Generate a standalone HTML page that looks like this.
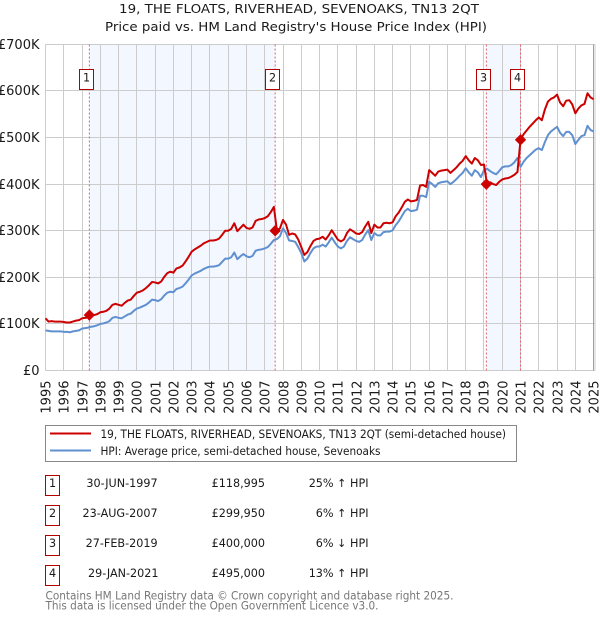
<!DOCTYPE html>
<html lang="en">
<head>
<meta charset="utf-8">
<title>19, THE FLOATS, RIVERHEAD, SEVENOAKS, TN13 2QT</title>
<style>
html,body{margin:0;padding:0;background:#fff;width:600px;height:620px;overflow:hidden}
svg{display:block}
text{font-family:"DejaVu Sans","Liberation Sans",sans-serif;fill:#1a1a1a}
</style>
</head>
<body>
<svg id="chart" xmlns="http://www.w3.org/2000/svg" width="600" height="620" viewBox="0 0 600 620">
  <text x="299" y="13" text-anchor="middle" font-size="12.5" textLength="360" lengthAdjust="spacingAndGlyphs">19, THE FLOATS, RIVERHEAD, SEVENOAKS, TN13 2QT</text>
  <text x="296" y="31" text-anchor="middle" font-size="12.5" textLength="382" lengthAdjust="spacingAndGlyphs">Price paid vs. HM Land Registry's House Price Index (HPI)</text>
  <g id="bands"></g>
  <g id="grid"></g>
  <g id="sale-lines"></g>
  <g id="series"></g>
  <g id="markers"></g>
  <g id="labels"></g>

  <g>
    <rect x="45.5" y="425.5" width="471" height="36" fill="#fff" stroke="#888" stroke-width="1"/>
    <line x1="50" y1="433.5" x2="91" y2="433.5" stroke="#cc0000" stroke-width="2"/>
    <text x="100.5" y="438" font-size="11.2" textLength="405.5" lengthAdjust="spacingAndGlyphs">19, THE FLOATS, RIVERHEAD, SEVENOAKS, TN13 2QT (semi-detached house)</text>
    <line x1="50" y1="450.5" x2="91" y2="450.5" stroke="#6090d0" stroke-width="2"/>
    <text x="100.5" y="455" font-size="11.2" textLength="280" lengthAdjust="spacingAndGlyphs">HPI: Average price, semi-detached house, Sevenoaks</text>
  </g>

  <g font-size="11.2">
    <rect x="45.5" y="475.5" width="14" height="20" fill="#fff" stroke="#b00000"/>
    <text x="52.5" y="487" text-anchor="middle" font-size="11.2">1</text>
    <text x="157.6" y="487" text-anchor="end" font-size="11.2">30-JUN-1997</text>
    <text x="265" y="487" text-anchor="end" font-size="11.2">£118,995</text>
    <text x="368.5" y="487" text-anchor="end" font-size="11.2">25% ↑ HPI</text>

    <rect x="45.5" y="505.5" width="14" height="20" fill="#fff" stroke="#b00000"/>
    <text x="52.5" y="517" text-anchor="middle" font-size="11.2">2</text>
    <text x="157.6" y="517" text-anchor="end" font-size="11.2">23-AUG-2007</text>
    <text x="265" y="517" text-anchor="end" font-size="11.2">£299,950</text>
    <text x="368.5" y="517" text-anchor="end" font-size="11.2">6% ↑ HPI</text>

    <rect x="45.5" y="535.5" width="14" height="20" fill="#fff" stroke="#b00000"/>
    <text x="52.5" y="547" text-anchor="middle" font-size="11.2">3</text>
    <text x="157.6" y="547" text-anchor="end" font-size="11.2">27-FEB-2019</text>
    <text x="265" y="547" text-anchor="end" font-size="11.2">£400,000</text>
    <text x="368.5" y="547" text-anchor="end" font-size="11.2">6% ↓ HPI</text>

    <rect x="45.5" y="565.5" width="14" height="20" fill="#fff" stroke="#b00000"/>
    <text x="52.5" y="577" text-anchor="middle" font-size="11.2">4</text>
    <text x="158.5" y="577" text-anchor="end" font-size="11.2">29-JAN-2021</text>
    <text x="265" y="577" text-anchor="end" font-size="11.2">£495,000</text>
    <text x="368.5" y="577" text-anchor="end" font-size="11.2">13% ↑ HPI</text>
  </g>

  <text x="45.5" y="599.5" font-size="11.2" style="fill:#777" textLength="408" lengthAdjust="spacingAndGlyphs">Contains HM Land Registry data © Crown copyright and database right 2025.</text>
  <text x="45.5" y="609.5" font-size="11.2" style="fill:#777" textLength="333" lengthAdjust="spacingAndGlyphs">This data is licensed under the Open Government Licence v3.0.</text>
</svg>

<script>
// Chart data (values in £ thousands; series sampled every two months from Jan 1995)
const yearTicks = [1995,1996,1997,1998,1999,2000,2001,2002,2003,2004,2005,2006,2007,2008,2009,2010,2011,2012,2013,2014,2015,2016,2017,2018,2019,2020,2021,2022,2023,2024,2025];
const priceTicks = [0,100,200,300,400,500,600,700];
const priceTickLabels = ['£0','£100K','£200K','£300K','£400K','£500K','£600K','£700K'];
const seriesStartYear = 1995;
const samplesPerYear = 6;
const hpiValues = [
  86,85,84,84,84,84,
  83,83,82,84,85,86,
  90,91,92,94,95,97,
  100,101,103,106,113,115,
  113,112,116,120,122,128,
  133,135,138,141,146,152,
  151,149,153,161,167,169,
  168,175,177,180,187,195,
  204,208,211,214,218,221,
  223,223,224,226,233,240,
  240,243,253,239,245,250,
  245,243,246,257,259,260,
  262,265,272,280,282,288,
  305,295,279,278,276,265,
  252,234,240,252,262,266,
  266,270,266,275,285,275,
  266,262,266,278,286,282,
  278,276,280,292,301,280,
  295,290,290,297,298,298,
  301,312,320,331,342,347,
  342,343,345,375,375,372,
  405,400,394,402,404,405,
  406,400,405,411,418,424,
  434,425,418,430,425,415,
  430,433,428,424,421,428,
  436,438,438,441,447,456,
  437,448,456,462,468,474,
  477,473,490,505,513,518,
  523,510,503,512,512,505,
  486,495,503,505,525,516,
  513
];
const priceValues = [
  112,105,106,105,105,105,
  104,103,103,105,107,108,
  112,113,114,118,119,121,
  125,126,128,133,141,143,
  141,139,145,150,152,160,
  167,169,172,177,183,190,
  189,187,191,201,209,212,
  210,219,221,225,234,244,
  255,260,264,268,273,276,
  279,279,280,283,291,300,
  300,304,316,299,306,313,
  306,304,307,321,324,325,
  327,331,340,351,300,305,
  323,313,291,294,292,281,
  265,248,254,267,278,282,
  283,287,281,290,301,291,
  281,277,281,295,303,299,
  294,293,297,309,319,295,
  313,307,307,316,317,316,
  318,331,339,350,362,367,
  363,364,366,397,398,394,
  430,424,418,427,429,430,
  431,424,430,436,444,450,
  460,451,444,456,451,441,
  442,400,404,400,398,405,
  410,412,413,416,420,426,
  495,507,515,523,530,537,
  543,537,560,577,583,586,
  592,575,567,579,580,571,
  552,562,569,572,595,586,
  582
];
const saleDates = [1997.4,2007.57,2019.13,2021.0];
const salePrices = [118.995,299.95,400,495];
const saleNumbers = ['1','2','3','4'];

const svgNS = 'http://www.w3.org/2000/svg';
function xScale(year){ return 45.5 + (year - 1995) * 18.27; }
function yScale(value){ return 370.5 - value * 0.466; }
function snap(p){ return Math.round(p - 0.5) + 0.5; }
function make(tag, attrs, parentId){
  const el = document.createElementNS(svgNS, tag);
  for (const k in attrs) el.setAttribute(k, attrs[k]);
  document.getElementById(parentId).appendChild(el);
  return el;
}

// shaded bands between sales
for (let i = 0; i < saleDates.length; i += 2) {
  const band = make('rect', {x: xScale(saleDates[i]), y: 44.5, width: xScale(saleDates[i+1]) - xScale(saleDates[i]), height: 326, fill: '#f3f7ff'}, 'bands');
  
  
}

// grid
priceTicks.forEach(function(v, i){
  const y = snap(yScale(v));
  const line = make('line', {x1: 45.5, x2: 595, y1: y, y2: y, stroke: '#cccccc', 'stroke-width': 1}, 'grid');
  
  
  const label = make('text', {x: 39.5, y: y + 4.5, 'text-anchor': 'end', 'font-size': 13}, 'labels');
  label.textContent = priceTickLabels[i];
  
  
});
yearTicks.forEach(function(yr){
  const x = snap(xScale(yr));
  const line = make('line', {x1: x, x2: x, y1: 44.5, y2: 370.5, stroke: yr === 2025 ? '#a0a0a0' : '#cccccc', 'stroke-width': 1}, 'grid');
  
  
  const label = make('text', {'text-anchor': 'end', 'font-size': 13, transform: 'translate(' + (x + 5) + ',380.5) rotate(-90)'}, 'labels');
  label.textContent = String(yr);
  
  
});
const rightEdge = make('line', {x1: 595, x2: 595, y1: 44.5, y2: 370.5, stroke: '#cccccc', 'stroke-width': 1}, 'grid');



// sale reference lines
saleDates.forEach(function(d){
  const x = xScale(d);
  const line = make('line', {x1: x, x2: x, y1: 44.5, y2: 370.5, stroke: '#e8606a', 'stroke-width': 1, 'stroke-dasharray': '2 2'}, 'sale-lines');
  
  
});

// series
function pathFor(values){
  return values.map(function(v, i){
    return (i ? 'L' : 'M') + xScale(seriesStartYear + i / samplesPerYear).toFixed(2) + ' ' + yScale(v).toFixed(2);
  }).join('');
}
const hpiLine = make('path', {d: pathFor(hpiValues), fill: 'none', stroke: '#6090d0', 'stroke-width': 2, 'stroke-linejoin': 'round'}, 'series');


const priceLine = make('path', {d: pathFor(priceValues), fill: 'none', stroke: '#cc0000', 'stroke-width': 2, 'stroke-linejoin': 'round'}, 'series');



// sale markers and numbered badges
saleDates.forEach(function(d, i){
  const x = xScale(d);
  const y = yScale(salePrices[i]);
  const r = 5;
  const marker = make('path', {d: 'M' + x + ' ' + (y - r) + 'L' + (x + r) + ' ' + y + 'L' + x + ' ' + (y + r) + 'L' + (x - r) + ' ' + y + 'Z', fill: '#cc0000', stroke: '#cc0000', 'stroke-width': 1, 'stroke-linejoin': 'round'}, 'markers');
  
  
  const box = make('rect', {x: snap(x - 10), y: 69.5, width: 14, height: 20, fill: '#fff', stroke: '#b00000', 'stroke-width': 1}, 'markers');
  
  
  const num = make('text', {x: snap(x - 10) + 7, y: 81.5, 'text-anchor': 'middle', 'font-size': 11.2}, 'markers');
  num.textContent = saleNumbers[i];
  
  
});
</script>
</body>
</html>
